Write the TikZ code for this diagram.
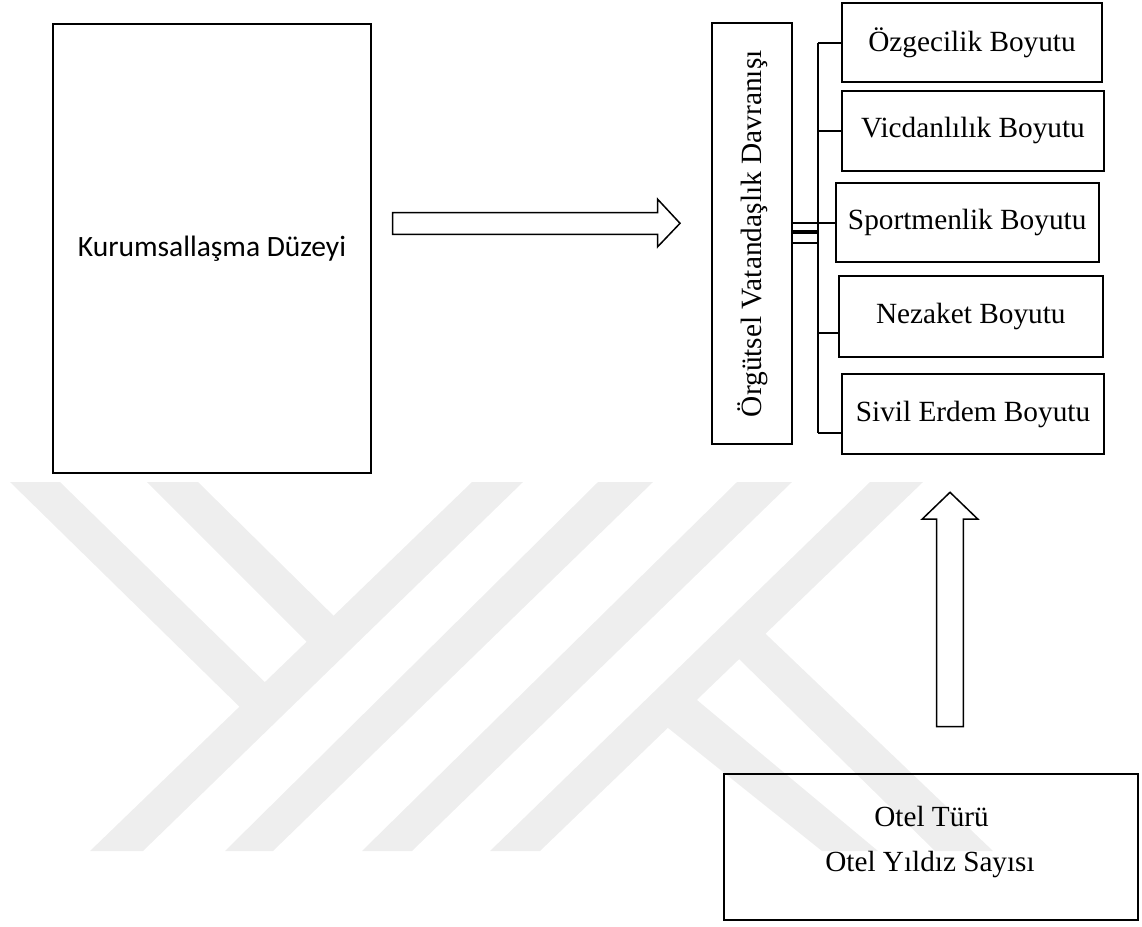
\documentclass[tikz,border=0pt]{standalone}
\usepackage{fontspec}
\setmainfont{Liberation Serif}
\newfontfamily\calibfont{Carlito}
\definecolor{wm}{RGB}{238,238,238}
\begin{document}
\begin{tikzpicture}[x={(1pt,0)},y={(0,-1pt)},
  box/.style={draw=black, line width=1.8pt, inner sep=0pt, align=center,
    font=\fontsize{29.3}{33}\selectfont},
  otxt/.style={inner sep=0pt, font=\fontsize{29.2}{32}\selectfont},
  conn/.style={line width=1.8pt},
  thickconn/.style={line width=4pt},
  blk/.style={draw=black, line width=1.5pt, line join=miter},
  wmark/.style={fill=wm, draw=none}]
\useasboundingbox (0,0) rectangle (1142,926);
% watermark
\fill[wmark] (472,482) -- (523,482) -- (143,851) -- (90,851) -- cycle;
\fill[wmark] (598,482) -- (653,482) -- (273,851) -- (225,851) -- cycle;
\fill[wmark] (737,482) -- (792,482) -- (412,851) -- (362,851) -- cycle;
\fill[wmark] (870,482) -- (923,482) -- (540,851) -- (490,851) -- cycle;
\fill[wmark] (10,482) -- (60,482) -- (275,692) -- (252,719) -- cycle;
\fill[wmark] (147,482) -- (198,482) -- (345,627) -- (319,654) -- cycle;
\fill[wmark] (756,624.6) -- (993,851) -- (935,851) -- (729.3,649.5) -- cycle;
\fill[wmark] (685.5,690.4) -- (878,851) -- (822,851) -- (656.3,718.6) -- cycle;
% nodes
\node[box, minimum width=318pt, minimum height=449pt,
  font=\calibfont\fontsize{29.5}{34}\selectfont] (kd) at (212,248.5) {Kurumsallaşma Düzeyi};
\node[box, rotate=90, minimum width=420.7pt, minimum height=80pt,
  font=\fontsize{29.4}{33}\selectfont] (ovd) at (752.3,233.7) {Örgütsel Vatandaşlık Davranışı};
\node[box, minimum width=260.6pt, minimum height=79pt] (oz) at (972,42.8) {Özgecilik Boyutu};
\node[box, minimum width=262.6pt, minimum height=80.3pt] (vi) at (973,130.8) {Vicdanlılık Boyutu};
\node[box, minimum width=263pt, minimum height=79.6pt] (sp) at (967.2,222.5) {Sportmenlik Boyutu};
\node[box, minimum width=263.7pt, minimum height=80.4pt] (ne) at (970.8,316.5) {Nezaket Boyutu};
\node[box, minimum width=262.6pt, minimum height=80pt] (si) at (973,414.3) {Sivil Erdem Boyutu};
\node[box, minimum width=413.7pt, minimum height=146pt] (ot) at (930.8,847) {};
\node[otxt, anchor=base] (ott1) at (931.5,826.7) {Otel Türü};
\node[otxt, anchor=base] (ott2) at (930,871.7) {Otel Yıldız Sayısı};
% bus connectors
\coordinate (b1) at (818.3,42.8);
\coordinate (b2) at (818.3,130.7);
\coordinate (b3) at (818.3,222.9);
\coordinate (b4) at (818.3,332.7);
\coordinate (b5) at (818.3,433.3);
\draw[conn] (b1) -- (b5);
\draw[conn] (b1) -- (b1 -| oz.west);
\draw[conn] (b2) -- (b2 -| vi.west);
\draw[conn] (b3 -| ovd.south) -- (b3 -| sp.west);
\draw[conn] (b4) -- (b4 -| ne.west);
\draw[conn] (b5) -- (b5 -| si.west);
\coordinate (m2) at (818.3,232.3);
\coordinate (m3) at (818.3,242.7);
\draw[thickconn] (m2 -| ovd.south) -- (m2);
\draw[conn] (m3 -| ovd.south) -- (m3);
% block arrows
\draw[blk] (392.7,212.7) -- (657.7,212.7) -- (657.7,199.3) -- (680,223.3) -- (657.7,246.7) -- (657.7,234.3) -- (392.7,234.3) -- cycle;
\draw[blk] (936.7,726.7) -- (936.7,519) -- (922.3,519) -- (950,492.3) -- (977.7,519) -- (963.3,519) -- (963.3,726.7) -- cycle;
\end{tikzpicture}
\end{document}
